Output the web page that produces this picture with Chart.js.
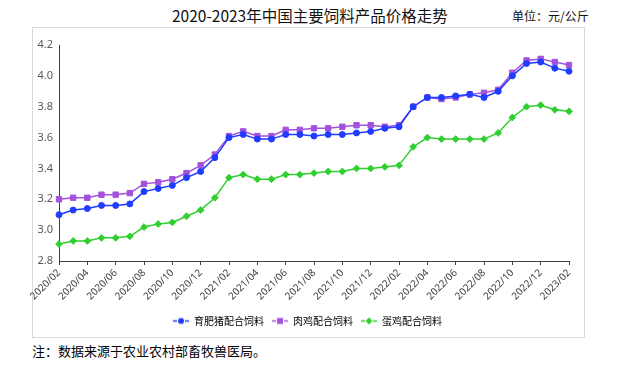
<!DOCTYPE html>
<html>
<head>
<meta charset="utf-8">
<script src="https://cdn.jsdelivr.net/npm/chart.js@4.4.1/dist/chart.umd.min.js"></script>
<style>
  body { margin: 0; background: #fff; width: 624px; height: 368px; position: relative; overflow: hidden;
         font-family: "Noto Sans CJK SC", sans-serif; }
  #frame { position: absolute; left: 32px; top: 27px; width: 551px; height: 309px; border: 1px solid #d9d9d9; }
  #title { position: absolute; left: 172px; top: 5px; font-size: 15.5px; line-height: 20px; color: #111; white-space: nowrap; }
  #unit { position: absolute; left: 512px; top: 8px; font-size: 12px; line-height: 16px; color: #111; white-space: nowrap; }
  #note { position: absolute; left: 32px; top: 342px; font-size: 13px; line-height: 18px; color: #000; white-space: nowrap; }
  #chart { position: absolute; left: 0; top: 0; }
</style>
</head>
<body>
<div id="frame"></div>
<div id="title">2020-2023年中国主要饲料产品价格走势</div>
<div id="unit">单位：元/公斤</div>
<div id="note">注：数据来源于农业农村部畜牧兽医局。</div>
<canvas id="chart" width="624" height="368"></canvas>
<script>
const months = [
  '2020/02', '2020/03', '2020/04', '2020/05', '2020/06', '2020/07', '2020/08', '2020/09', '2020/10',
  '2020/11', '2020/12', '2021/01', '2021/02', '2021/03', '2021/04', '2021/05', '2021/06', '2021/07',
  '2021/08', '2021/09', '2021/10', '2021/11', '2021/12', '2022/01', '2022/02', '2022/03', '2022/04',
  '2022/05', '2022/06', '2022/07', '2022/08', '2022/09', '2022/10', '2022/11', '2022/12', '2023/01',
  '2023/02'
];

// 育肥猪配合饲料
const pigFeed = [
  3.10, 3.13, 3.14, 3.16, 3.16, 3.17, 3.25, 3.27, 3.29, 3.34, 3.38, 3.47, 3.60,
  3.62, 3.59, 3.59, 3.62, 3.62, 3.61, 3.62, 3.62, 3.63, 3.64, 3.66, 3.67,
  3.80, 3.86, 3.86, 3.87, 3.88, 3.86, 3.90, 4.00, 4.08, 4.09, 4.05, 4.03
];

// 肉鸡配合饲料
const broilerFeed = [
  3.20, 3.21, 3.21, 3.23, 3.23, 3.24, 3.30, 3.31, 3.33, 3.37, 3.42, 3.49, 3.61,
  3.64, 3.61, 3.61, 3.65, 3.65, 3.66, 3.66, 3.67, 3.68, 3.68, 3.67, 3.68,
  3.80, 3.86, 3.85, 3.86, 3.88, 3.89, 3.91, 4.02, 4.10, 4.11, 4.09, 4.07
];

// 蛋鸡配合饲料
const layerFeed = [
  2.91, 2.93, 2.93, 2.95, 2.95, 2.96, 3.02, 3.04, 3.05, 3.09, 3.13, 3.21, 3.34,
  3.36, 3.33, 3.33, 3.36, 3.36, 3.37, 3.38, 3.38, 3.40, 3.40, 3.41, 3.42,
  3.54, 3.60, 3.59, 3.59, 3.59, 3.59, 3.63, 3.73, 3.80, 3.81, 3.78, 3.77
];

const seriesNames = ['育肥猪配合饲料', '肉鸡配合饲料', '蛋鸡配合饲料'];
const yTicks = [2.8, 3.0, 3.2, 3.4, 3.6, 3.8, 4.0, 4.2];

const colors = ['#1f3cff', '#a452dc', '#2fcf2f'];
const styles = ['circle', 'rect', 'rectRot'];
const radii = [3, 3.8, 3.4];

// small "-o-" legend icon
function legendIcon(color, style) {
  const c = document.createElement('canvas');
  c.width = 16; c.height = 9;
  const g = c.getContext('2d');
  g.strokeStyle = color; g.fillStyle = color; g.lineWidth = 1.5;
  g.beginPath();
  g.moveTo(0, 4.5); g.lineTo(4, 4.5);
  g.moveTo(12, 4.5); g.lineTo(16, 4.5);
  g.stroke();
  g.beginPath();
  if (style === 'circle') g.arc(8, 4.5, 3, 0, Math.PI * 2);
  else if (style === 'rect') g.rect(5, 1.5, 6, 6);
  else { g.moveTo(8, 1); g.lineTo(11.5, 4.5); g.lineTo(8, 8); g.lineTo(4.5, 4.5); g.closePath(); }
  g.fill();
  return c;
}

const datasets = [pigFeed, broilerFeed, layerFeed].map((d, i) => ({
  label: seriesNames[i],
  data: d,
  borderColor: colors[i],
  backgroundColor: colors[i],
  borderWidth: 1.5,
  pointStyle: styles[i],
  pointRadius: radii[i],
  pointBorderWidth: 1,
  tension: 0
}));

// legend box spans 0..chartArea.right, nudge it so it is centred like the original
const legendShift = {
  id: 'legendShift',
  afterLayout(chart) {
    chart.legend.left += 23;
    chart.legend.right += 23;
  }
};

new Chart(document.getElementById('chart'), {
  type: 'line',
  data: { labels: months, datasets: datasets },
  plugins: [legendShift],
  options: {
    responsive: false,
    animation: false,
    layout: { padding: { left: 0, right: 55, top: 45, bottom: 32 } },
    plugins: {
      title: { display: false },
      tooltip: { enabled: false },
      legend: {
        position: 'bottom',
        labels: {
          font: { family: '"Noto Sans CJK SC", sans-serif', size: 10 },
          color: '#333',
          usePointStyle: true,
          pointStyleWidth: 16,
          boxHeight: 9,
          padding: 8,
          generateLabels: (chart) => chart.data.datasets.map((ds, i) => ({
            text: ds.label,
            pointStyle: legendIcon(colors[i], styles[i]),
            fillStyle: colors[i],
            strokeStyle: colors[i],
            lineWidth: 0,
            hidden: false,
            datasetIndex: i
          }))
        }
      }
    },
    scales: {
      x: {
        offset: false,
        grid: {
          drawOnChartArea: false,
          drawTicks: true,
          tickLength: 4,
          color: (ctx) => (ctx.index % 2 === 0 ? '#404040' : 'rgba(0,0,0,0)')
        },
        border: { color: '#404040', width: 1 },
        ticks: {
          autoSkip: false,
          minRotation: 45,
          maxRotation: 45,
          padding: 2,
          color: '#404040',
          font: { family: '"Noto Sans", sans-serif', size: 10 },
          callback: function (val, i) { return i % 2 === 0 ? this.getLabelForValue(val) : ''; }
        },
        afterFit: (scale) => { scale.height = 47; }
      },
      y: {
        min: yTicks[0],
        max: yTicks[yTicks.length - 1],
        grid: { display: false, drawTicks: false },
        border: { color: '#404040', width: 1 },
        afterBuildTicks: (scale) => { scale.ticks = yTicks.map(v => ({ value: v })); },
        ticks: {
          padding: 6,
          color: '#595959',
          font: { family: '"Noto Sans", sans-serif', size: 11 },
          callback: (v) => v.toFixed(1)
        },
        afterFit: (scale) => { scale.width = 59; }
      }
    }
  }
});
</script>
</body>
</html>
